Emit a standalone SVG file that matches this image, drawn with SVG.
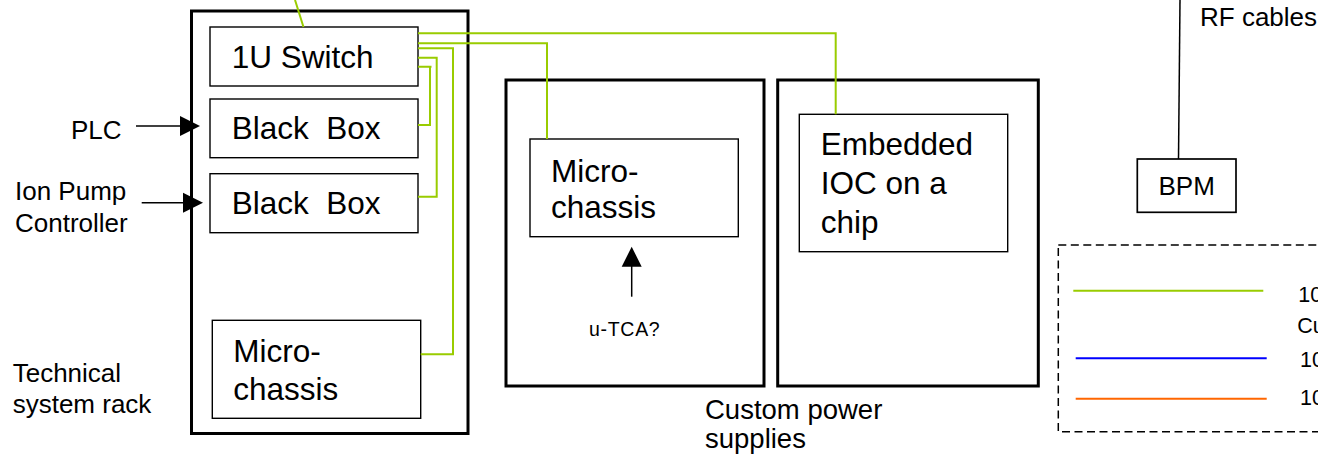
<svg xmlns="http://www.w3.org/2000/svg" width="1318" height="455" viewBox="0 0 1318 455">
<defs>
<style>
text{font-family:"Liberation Sans",Arial,sans-serif;fill:#000}
.big{font-size:31.5px}
.lbl{font-size:26px}
.rack{fill:#fff;stroke:#000;stroke-width:3}
.box{fill:#fff;stroke:#000;stroke-width:1.4}
.g{fill:none;stroke:#99cc00;stroke-width:2}
.blk{fill:none;stroke:#000;stroke-width:1.5}
</style>
</defs>
<rect width="1318" height="455" fill="#fff"/>

<g id="rack">
<rect class="rack" x="191.5" y="11" width="276.5" height="422.5"/>
<text class="lbl" x="12.7" y="381.7">Technical</text>
<text class="lbl" x="12.7" y="413.3">system rack</text>
</g>
<g id="switch">
<rect class="box" x="210" y="27" width="208" height="59"/>
<text class="big" x="231.7" y="68.3">1U Switch</text>
</g>
<g id="blackbox1">
<rect class="box" x="210" y="99" width="208" height="58.7"/>
<text class="big" x="231.7" y="139.3" xml:space="preserve">Black  Box</text>
</g>
<g id="blackbox2">
<rect class="box" x="210" y="173.7" width="208" height="59"/>
<text class="big" x="231.7" y="214" xml:space="preserve">Black  Box</text>
</g>
<g id="microchassis1">
<rect class="box" x="212.3" y="320.3" width="208.4" height="98"/>
<text class="big" x="233.3" y="362.3">Micro-</text>
<text class="big" x="233.3" y="400">chassis</text>
</g>
<g id="psuA">
<rect class="rack" x="506" y="80" width="258" height="306"/>
</g>
<g id="psuB">
<rect class="rack" x="777.7" y="80" width="260.6" height="306"/>
</g>
<g id="psulabel">
<text style="font-size:27.5px" x="705" y="419">Custom power</text>
<text style="font-size:27.5px" x="705" y="448">supplies</text>
</g>
<g id="microchassis2">
<rect class="box" x="530" y="139" width="208.3" height="97.7"/>
<text class="big" x="551" y="181.7">Micro-</text>
<text class="big" x="551" y="218.3">chassis</text>
</g>
<g id="utca">
<text style="font-size:19.5px;letter-spacing:0.7px" x="589" y="335.7">u-TCA?</text>
</g>
<g id="embedded">
<rect class="box" x="799.3" y="114.3" width="208.4" height="137.4"/>
<text class="big" x="820.7" y="155">Embedded</text>
<text class="big" x="820.7" y="194.3">IOC on a</text>
<text class="big" x="820.7" y="233.3">chip</text>
</g>
<g id="plc">
<text class="lbl" x="71" y="139.3">PLC</text>
</g>
<g id="ionpump">
<text class="lbl" x="15" y="200">Ion Pump</text>
<text class="lbl" x="15" y="231.7">Controller</text>
</g>
<g id="bpm">
<rect class="box" x="1137.3" y="159" width="98.7" height="53.3" style="stroke-width:1.7"/>
<text class="lbl" x="1186.7" y="195" text-anchor="middle">BPM</text>
</g>
<g id="rfcables">
<text class="lbl" x="1200" y="26">RF cables</text>
</g>
<g id="legend">
<rect x="1058.3" y="245" width="300" height="186.7" fill="none" stroke="#000" stroke-width="1.5" stroke-dasharray="8,4.5"/>
<line x1="1073.3" y1="290.7" x2="1263.3" y2="290.7" stroke="#99cc00" stroke-width="2"/>
<line x1="1075.7" y1="358.3" x2="1266.7" y2="358.3" stroke="#0000ff" stroke-width="2"/>
<line x1="1075.7" y1="398.7" x2="1266.7" y2="398.7" stroke="#ff6600" stroke-width="2"/>
<text style="font-size:21.5px" x="1298.3" y="301.7">10</text>
<text style="font-size:21.5px" x="1297.3" y="333.3">Cu</text>
<text style="font-size:21.5px" x="1300" y="366.7">10</text>
<text style="font-size:21.5px" x="1300" y="405">10</text>
</g>
<g id="connectors">
<path class="g" d="M295,0 L303.5,27"/>
<path class="g" d="M418,33.3 H835.7 V114.3"/>
<path class="g" d="M418,43.3 H547 V139"/>
<path class="g" d="M418,48.3 H453 V354.3 H420.7"/>
<path class="g" d="M418,57.7 H436.7 V196.7 H418"/>
<path class="g" d="M418,66.7 H431.5 M430,66.7 V125 H418"/>
<path class="blk" d="M1180,0 L1178.5,159"/>
<path class="blk" d="M136,126 H182"/>
<polygon points="180,116 200,126 180,136" fill="#000"/>
<path class="blk" d="M141.7,202.7 H185"/>
<polygon points="183,192.7 203,202.7 183,212.7" fill="#000"/>
<path class="blk" d="M631.7,296.7 V265"/>
<polygon points="621.7,266.7 631.7,246.7 641.7,266.7" fill="#000"/>
</g>
</svg>
